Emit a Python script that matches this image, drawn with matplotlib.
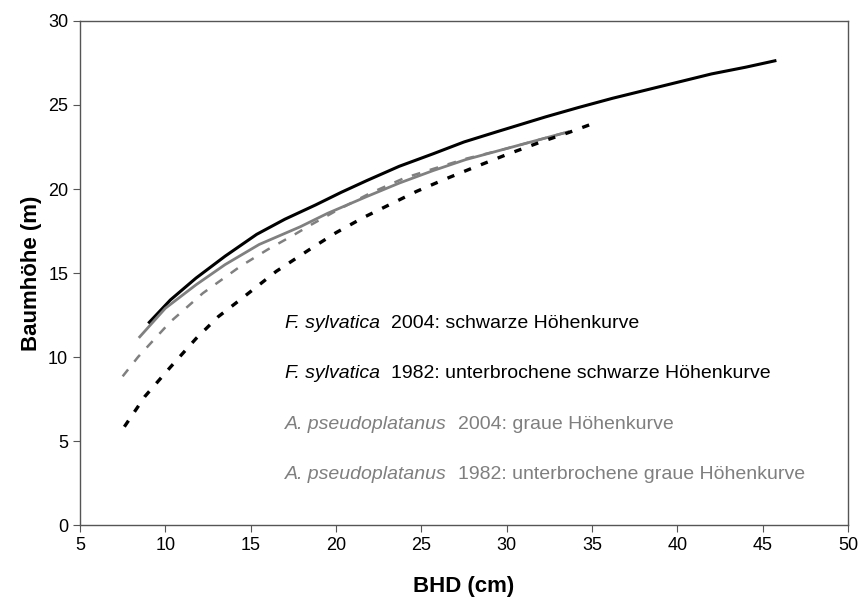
import numpy as np
import matplotlib
matplotlib.use('Agg')
import matplotlib.pyplot as plt

plt.rcParams['font.family'] = ['Liberation Sans', 'DejaVu Sans']

# Höhenkurven (BHD in cm, Höhe in m)
fs2004_x = [9.0, 10.3, 11.8, 13.5, 15.35, 17.0, 18.8, 20.3, 21.8, 23.7, 25.7, 27.5, 29.4, 32.3, 34.2, 36.2, 38.2, 40.2, 42.0, 44.0, 45.8]
fs2004_y = [12.0, 13.4, 14.7, 16.0, 17.3, 18.2, 19.05, 19.8, 20.5, 21.35, 22.1, 22.8, 23.4, 24.3, 24.85, 25.4, 25.9, 26.4, 26.85, 27.25, 27.65]

fs1982_x = [7.6, 8.8, 10.3, 11.8, 13.1, 14.5, 16.5, 18.6, 20.0, 21.6, 23.2, 24.7, 26.3, 28.0, 30.0, 32.0, 33.6, 35.2]
fs1982_y = [5.85, 7.65, 9.4, 11.1, 12.4, 13.5, 15.1, 16.5, 17.4, 18.3, 19.1, 19.85, 20.55, 21.25, 22.05, 22.8, 23.35, 23.95]

ap2004_x = [8.5, 10.0, 11.8, 13.5, 15.5, 17.9, 19.5, 21.8, 23.7, 25.7, 27.6, 29.6, 31.6, 33.6]
ap2004_y = [11.2, 12.9, 14.3, 15.5, 16.7, 17.75, 18.55, 19.55, 20.35, 21.1, 21.75, 22.3, 22.85, 23.4]

ap1982_x = [7.5, 8.4, 10.3, 12.2, 14.4, 16.0, 17.5, 18.5, 20.0, 22.0, 24.0, 25.7, 27.6, 29.6, 31.6, 33.6]
ap1982_y = [8.85, 10.0, 12.1, 13.8, 15.4, 16.4, 17.25, 17.85, 18.7, 19.75, 20.65, 21.2, 21.8, 22.3, 22.85, 23.4]

x_ticks = [5, 10, 15, 20, 25, 30, 35, 40, 45, 50]
y_ticks = [0, 5, 10, 15, 20, 25, 30]

legend_rows = [
    ('F. sylvatica', '2004: schwarze Höhenkurve', 'black'),
    ('F. sylvatica', '1982: unterbrochene schwarze Höhenkurve', 'black'),
    ('A. pseudoplatanus', '2004: graue Höhenkurve', '#7f7f7f'),
    ('A. pseudoplatanus', '1982: unterbrochene graue Höhenkurve', '#7f7f7f'),
]
row_y = [12, 9, 6, 3]

grey = '#808080'

fig = plt.figure(figsize=(8.61, 6.05), dpi=100)
ax = fig.add_axes([0.0929, 0.1322, 0.8921, 0.8331])

ax.plot(fs2004_x, fs2004_y, color='black', lw=2.2, solid_capstyle='butt')
ax.plot(ap2004_x, ap2004_y, color=grey, lw=2.0)
ax.plot(ap1982_x, ap1982_y, color=grey, lw=1.8, dashes=(3.5, 4.0))
ax.plot(fs1982_x, fs1982_y, color='black', lw=2.4, dashes=(2.2, 3.2))

ax.set_xlim(5, 50)
ax.set_ylim(0, 30)
ax.set_xticks(x_ticks)
ax.set_yticks(y_ticks)
ax.tick_params(direction='out', length=5, width=0.8, color='#555555', labelsize=13)
for s in ax.spines.values():
    s.set_color('#555555')
    s.set_linewidth(1.0)

ax.set_xlabel('BHD (cm)', fontsize=16, fontweight='bold', labelpad=16)
ax.set_ylabel('Baumhöhe (m)', fontsize=16, fontweight='bold')
ax.yaxis.set_label_coords(-0.05, 0.5)

# Beschriftung der Kurven
for (name, desc, col), yy in zip(legend_rows, row_y):
    t = ax.text(17.0, yy, name, style='italic', fontsize=14, color=col, va='center')
    ax.annotate(desc, xy=(1, 0.5), xycoords=t, xytext=(8, 0), textcoords='offset points',
                fontsize=14, color=col, va='center')

fig.savefig('out.png', dpi=100)
